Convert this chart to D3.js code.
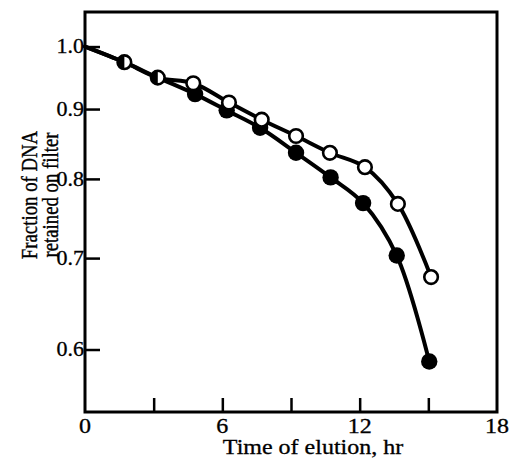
<!DOCTYPE html>
<html>
<head>
<meta charset="utf-8">
<script src="https://cdn.jsdelivr.net/npm/d3@7"></script>
<style>
  html, body { margin: 0; padding: 0; background: #fff; }
  svg { display: block; }
  text { font-family: "Liberation Serif", "Times New Roman", serif; fill: #000; }
</style>
</head>
<body>
<svg id="chart" width="509" height="461"></svg>
<script>
// ---- data ----
const startPoint = { time: 0, frac: 1.0 };
// points where both series coincide (half-filled markers)
const sharedTime = [1.72, 3.18];
const sharedFrac = [0.974, 0.949];
// open circles
const openTime = [4.73, 6.29, 7.72, 9.22, 10.70, 12.23, 13.67, 15.12];
const openFrac = [0.940, 0.910, 0.884, 0.860, 0.836, 0.816, 0.767, 0.678];
// filled circles
const filledTime = [4.81, 6.19, 7.65, 9.22, 10.73, 12.15, 13.62, 15.04];
const filledFrac = [0.923, 0.898, 0.872, 0.836, 0.802, 0.768, 0.703, 0.588];
// axes
const xTicks = [0, 3, 6, 9, 12, 15, 18];
const xLabelValues = [0, 6, 12, 18];
const xTickLabels = ["0", "6", "12", "18"];
const yTicks = [1.0, 0.9, 0.8, 0.7, 0.6];
const yTickLabels = ["1.0", "0.9", "0.8", "0.7", "0.6"];
const xTitle = "Time of elution, hr";
const yTitleLines = ["Fraction of DNA", "retained on filter"];
const xDomain = [0, 18];
const yDomain = [1.06, 0.54];

// ---- drawing ----
const svg = d3.select("#chart");
const x = d3.scaleLinear().domain(xDomain).range([85, 497]);
const y = d3.scaleLog().domain(yDomain).range([12, 412]);
const stretch = 1.2; // the printed type is horizontally wide

const x0 = x(xDomain[0]), x1 = x(xDomain[1]);
const y0 = y(yDomain[0]), y1 = y(yDomain[1]);

// frame
svg.append("rect")
  .attr("x", x0).attr("y", y0)
  .attr("width", x1 - x0).attr("height", y1 - y0)
  .attr("fill", "none").attr("stroke", "#000").attr("stroke-width", 3);

// x axis ticks (inward) via d3 axis, labels drawn separately
const xAxis = d3.axisBottom(x).tickValues(xTicks.filter(d => d > xDomain[0] && d < xDomain[1]))
  .tickSize(-14).tickFormat("");
const gx = svg.append("g").attr("transform", `translate(0,${y1})`).call(xAxis);
gx.select(".domain").remove();
gx.selectAll(".tick line").attr("stroke", "#000").attr("stroke-width", 2.5);

svg.append("g").selectAll("text").data(xLabelValues).join("text")
  .attr("transform", d => `translate(${x(d)},${y1 + 21}) scale(${stretch},1)`)
  .attr("text-anchor", "middle")
  .style("font-size", "20px")
  .style("stroke", "#000").style("stroke-width", "0.3px")
  .text((d, i) => xTickLabels[i]);

// y axis ticks (inward)
const yAxis = d3.axisLeft(y).tickValues(yTicks).tickSize(-15).tickFormat("");
const gy = svg.append("g").attr("transform", `translate(${x0},0)`).call(yAxis);
gy.select(".domain").remove();
gy.selectAll(".tick line").attr("stroke", "#000").attr("stroke-width", 2.5);

svg.append("g").selectAll("text").data(yTicks).join("text")
  .attr("transform", d => `translate(${x0 - 1},${y(d)}) scale(1.1,1)`)
  .attr("text-anchor", "end")
  .attr("dy", "0.34em")
  .style("font-size", "20px")
  .style("stroke", "#000").style("stroke-width", "0.3px")
  .text((d, i) => yTickLabels[i]);

// titles
svg.append("text")
  .attr("transform", `translate(${(x0 + x1) / 2 + 22},454) scale(${stretch},1)`)
  .attr("text-anchor", "middle")
  .style("font-size", "20px")
  .style("stroke", "#000").style("stroke-width", "0.3px")
  .text(xTitle);

const yt = svg.append("text")
  .attr("transform", `translate(37,195) rotate(-90) scale(1,1.25)`)
  .attr("text-anchor", "middle")
  .style("font-size", "18.8px")
  .style("stroke", "#000").style("stroke-width", "0.3px");
yt.selectAll("tspan").data(yTitleLines).join("tspan")
  .attr("x", 0).attr("dy", (d, i) => i === 0 ? 0 : 16.5)
  .text(d => d);

// series
const shared = sharedTime.map((t, i) => ({ time: t, frac: sharedFrac[i] }));
const openPts = openTime.map((t, i) => ({ time: t, frac: openFrac[i] }));
const filledPts = filledTime.map((t, i) => ({ time: t, frac: filledFrac[i] }));

const line = d3.line()
  .x(d => x(d.time)).y(d => y(d.frac))
  .curve(d3.curveCatmullRom.alpha(0.5));

[[startPoint, ...shared, ...filledPts], [startPoint, ...shared, ...openPts]].forEach(pts => {
  svg.append("path").datum(pts)
    .attr("d", line)
    .attr("fill", "none").attr("stroke", "#000")
    .attr("stroke-width", 4).attr("stroke-linejoin", "round").attr("stroke-linecap", "round");
});

// filled markers
svg.append("g").selectAll("circle").data(filledPts).join("circle")
  .attr("cx", d => x(d.time)).attr("cy", d => y(d.frac))
  .attr("r", 8.2).attr("fill", "#000");

// open markers
svg.append("g").selectAll("circle").data(openPts).join("circle")
  .attr("cx", d => x(d.time)).attr("cy", d => y(d.frac))
  .attr("r", 6.8).attr("fill", "#fff").attr("stroke", "#000").attr("stroke-width", 2.6);

// half-filled markers (coincident points)
const r = 6.8;
const halfArc = d3.arc().innerRadius(0).outerRadius(r).startAngle(Math.PI).endAngle(2 * Math.PI);
const gs = svg.append("g").selectAll("g").data(shared).join("g")
  .attr("transform", d => `translate(${x(d.time)},${y(d.frac)})`);
gs.append("circle").attr("r", r).attr("fill", "#fff");
gs.append("path").attr("d", halfArc()).attr("fill", "#000");
gs.append("circle").attr("r", r).attr("fill", "none").attr("stroke", "#000").attr("stroke-width", 2.6);
</script>
</body>
</html>
